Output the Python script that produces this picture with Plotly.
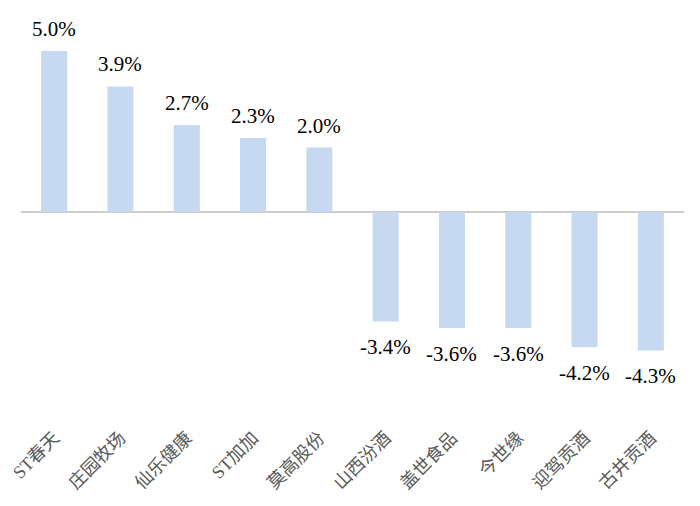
import plotly.graph_objects as go

categories = ["ST春天", "庄园牧场", "仙乐健康", "ST加加", "莫高股份",
              "山西汾酒", "盖世食品", "今世缘", "迎驾贡酒", "古井贡酒"]
values = [5.0, 3.9, 2.7, 2.3, 2.0, -3.4, -3.6, -3.6, -4.2, -4.3]
value_labels = ["5.0%", "3.9%", "2.7%", "2.3%", "2.0%",
                "-3.4%", "-3.6%", "-3.6%", "-4.2%", "-4.3%"]

fig = go.Figure(go.Bar(
    x=categories, y=values, cliponaxis=False,
    marker=dict(color="#c6d9f1", line=dict(width=0)),
))

for c, v, t in zip(categories, values, value_labels):
    fig.add_annotation(
        x=c, y=v, text=t, showarrow=False,
        yanchor="bottom" if v >= 0 else "top",
        yshift=8 if v >= 0 else -12,
        font=dict(family="Liberation Serif, Times New Roman, serif", size=21, color="#000000"),
    )

zero_y = 204
px_per = 32.2
top, bottom = 12, 415
fig.update_layout(
    width=700, height=506,
    margin=dict(l=13, r=24, t=top, b=506 - bottom),
    paper_bgcolor="white", plot_bgcolor="white",
    bargap=0.607, showlegend=False,
    xaxis=dict(showgrid=False, showline=False, ticks="", tickangle=-45, automargin=False,
               tickfont=dict(family="Liberation Serif, Noto Sans CJK SC, serif", size=18, color="#595959")),
    yaxis=dict(range=[-(bottom - zero_y) / px_per, (zero_y - top) / px_per], automargin=False,
               showgrid=False, showticklabels=False, zeroline=True,
               zerolinecolor="#cbcbcb", zerolinewidth=2),
)
fig.write_html("out.html")
